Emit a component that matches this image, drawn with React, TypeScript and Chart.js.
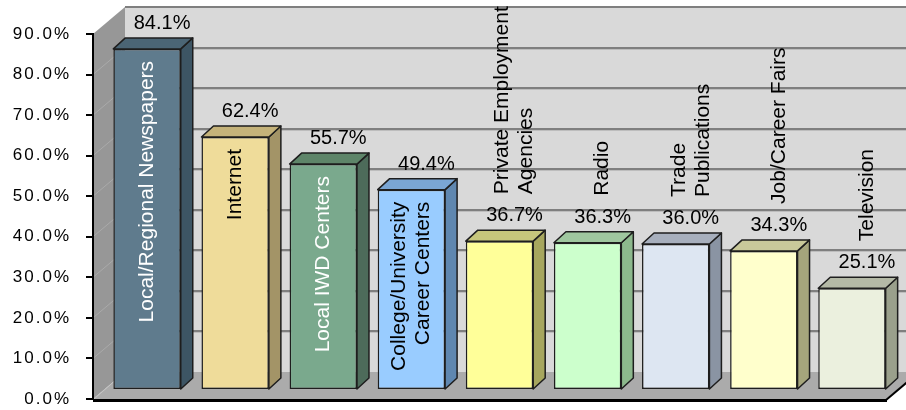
import React, { useEffect, useRef } from 'react';
import { Chart, registerables } from 'chart.js';

Chart.register(...registerables);

// ---- data ----
const categories: string[][] = [
  ['Local/Regional Newspapers'],
  ['Internet'],
  ['Local IWD Centers'],
  ['College/University', 'Career Centers'],
  ['Private Employment', 'Agencies'],
  ['Radio'],
  ['Trade', 'Publications'],
  ['Job/Career Fairs'],
  ['Television'],
];
const values: number[] = [84.1, 62.4, 55.7, 49.4, 36.7, 36.3, 36.0, 34.3, 25.1];
const yMin = 0;
const yMax = 90;
const yStep = 10;

// ---- styles ----
const frontColors = ['#5f7b8d', '#efdc9a', '#7aa98d', '#99ccff', '#ffff99', '#ccffcc', '#dde6f2', '#ffffcc', '#ebf0de'];
const sideColors = ['#3d5564', '#a39467', '#4d6b5a', '#5f87b0', '#a6a65e', '#8cb88c', '#8a94a3', '#a5a57c', '#9aa08c'];
const topColors = ['#4b6575', '#c5b37a', '#5e8569', '#7aa6d4', '#c6c67c', '#9fc79f', '#a7afbd', '#c9c99a', '#b4b9a6'];
const labelInside = [true, true, true, true, false, false, false, false, false];
const labelColors = ['#ffffff', '#000000', '#ffffff', '#000000', '#000000', '#000000', '#000000', '#000000', '#000000'];

const FONT = '"Liberation Sans", Arial, sans-serif';
const WALL_DX = 32, WALL_DY = -27;
const BAR_OFF_DX = 10, BAR_OFF_DY = -9;
const BAR_DX = 12, BAR_DY = -11;

const threeD = {
  id: 'threeD',
  beforeDraw(chart: any) {
    const { ctx, chartArea: a } = chart;
    const y = chart.scales.y;
    ctx.save();
    ctx.fillStyle = '#ffffff';
    ctx.fillRect(0, 0, chart.width, chart.height);
    const y0 = y.getPixelForValue(yMin);
    const yT = y.getPixelForValue(yMax);

    // back wall
    ctx.fillStyle = '#d9d9d9';
    ctx.fillRect(a.left + WALL_DX, yT + WALL_DY, a.right - a.left + 40, y0 - yT);
    for (let v = yMin + yStep; v < yMax; v += yStep) {
      const py = Math.round(y.getPixelForValue(v) + WALL_DY);
      ctx.fillStyle = '#7f7f7f';
      ctx.fillRect(a.left + WALL_DX, py - 1, chart.width, 2);
      ctx.fillStyle = '#bdbdbd';
      ctx.fillRect(a.left + WALL_DX, py + 1, chart.width, 1);
    }
    ctx.fillStyle = '#7f7f7f';
    ctx.fillRect(a.left + WALL_DX, Math.round(yT + WALL_DY) - 1, chart.width, 2);

    // side wall
    ctx.fillStyle = '#979797';
    ctx.beginPath();
    ctx.moveTo(a.left, yT);
    ctx.lineTo(a.left + WALL_DX, yT + WALL_DY);
    ctx.lineTo(a.left + WALL_DX, y0 + WALL_DY);
    ctx.lineTo(a.left, y0);
    ctx.closePath();
    ctx.fill();
    ctx.strokeStyle = '#aaaaaa';
    ctx.lineWidth = 1;
    for (let v = yMin + yStep; v < yMax; v += yStep) {
      const py = y.getPixelForValue(v);
      ctx.beginPath();
      ctx.moveTo(a.left, py);
      ctx.lineTo(a.left + WALL_DX, py + WALL_DY);
      ctx.stroke();
    }

    // floor
    ctx.fillStyle = '#ababab';
    ctx.beginPath();
    ctx.moveTo(a.left, y0);
    ctx.lineTo(a.left + WALL_DX, y0 + WALL_DY);
    ctx.lineTo(a.right + WALL_DX, y0 + WALL_DY);
    ctx.lineTo(a.right, y0);
    ctx.closePath();
    ctx.fill();
    ctx.strokeStyle = '#c4c4c4';
    ctx.beginPath();
    ctx.moveTo(a.left + 1, y0);
    ctx.lineTo(a.left + WALL_DX, y0 + WALL_DY);
    ctx.stroke();

    // floor front edge
    ctx.strokeStyle = '#000000';
    ctx.lineWidth = 3;
    ctx.beginPath();
    ctx.moveTo(a.left, y0 + 1.5);
    ctx.lineTo(a.right + 1, y0 + 1.5);
    ctx.stroke();
    ctx.lineWidth = 2;
    ctx.beginPath();
    ctx.moveTo(a.right, y0 + 1);
    ctx.lineTo(a.right + WALL_DX, y0 + WALL_DY + 1);
    ctx.stroke();
    ctx.restore();
    (ctx as any).letterSpacing = '2px';
  },
  beforeDatasetsDraw(chart: any) {
    const ctx = chart.ctx;
    (ctx as any).letterSpacing = '0px';
    ctx.save();
    ctx.translate(BAR_OFF_DX, BAR_OFF_DY);
  },
  afterDatasetsDraw(chart: any) {
    const ctx = chart.ctx;
    const meta = chart.getDatasetMeta(0);
    meta.data.forEach((el: any, i: number) => {
      const p = el.getProps(['x', 'y', 'base', 'width'], true);
      const L = p.x - p.width / 2;
      const R = p.x + p.width / 2;
      const T = p.y;
      const B = p.base;
      ctx.save();
      ctx.strokeStyle = '#1e1e1e';
      ctx.lineWidth = 1.5;
      ctx.lineJoin = 'round';
      // side face
      ctx.fillStyle = sideColors[i];
      ctx.beginPath();
      ctx.moveTo(R, T);
      ctx.lineTo(R + BAR_DX, T + BAR_DY);
      ctx.lineTo(R + BAR_DX, B + BAR_DY);
      ctx.lineTo(R, B);
      ctx.closePath();
      ctx.fill();
      ctx.stroke();
      // top face
      ctx.fillStyle = topColors[i];
      ctx.beginPath();
      ctx.moveTo(L, T);
      ctx.lineTo(L + BAR_DX, T + BAR_DY);
      ctx.lineTo(R + BAR_DX, T + BAR_DY);
      ctx.lineTo(R, T);
      ctx.closePath();
      ctx.fill();
      ctx.stroke();

      // value label
      ctx.fillStyle = '#000000';
      ctx.font = `20px ${FONT}`;
      ctx.textAlign = 'center';
      ctx.textBaseline = 'alphabetic';
      ctx.fillText(values[i].toFixed(1) + '%', p.x + 15, T - 20);

      // category label
      const lines = categories[i];
      const n = lines.length;
      ctx.font = `21px ${FONT}`;
      ctx.fillStyle = labelColors[i];
      ctx.textBaseline = 'middle';
      if (labelInside[i]) {
        ctx.translate(p.x, T + 12);
        ctx.rotate(-Math.PI / 2);
        ctx.textAlign = 'right';
      } else {
        ctx.translate(p.x + 15, T - 47);
        ctx.rotate(-Math.PI / 2);
        ctx.textAlign = 'left';
      }
      lines.forEach((ln, k) => {
        ctx.fillText(ln, 0, (k - (n - 1) / 2) * 24);
      });
      ctx.restore();
    });
    ctx.restore();
  },
};

export default function App() {
  const ref = useRef<HTMLCanvasElement | null>(null);
  useEffect(() => {
    if (!ref.current) return;
    const chart = new Chart(ref.current, {
      type: 'bar',
      data: {
        labels: categories.map((c) => c.join(' ')),
        datasets: [
          {
            data: values,
            backgroundColor: frontColors,
            borderColor: '#1e1e1e',
            borderWidth: 1.5,
            borderSkipped: false,
            barPercentage: 0.765,
            categoryPercentage: 1,
          },
        ],
      },
      options: {
        responsive: false,
        animation: false,
        events: [],
        devicePixelRatio: 1,
        layout: { padding: { left: 0, top: 34, right: 20, bottom: 11 } },
        plugins: { legend: { display: false }, tooltip: { enabled: false }, title: { display: false } },
        scales: {
          x: { display: false },
          y: {
            min: yMin,
            max: yMax,
            ticks: {
              stepSize: yStep,
              callback: (v: any) => Number(v).toFixed(1) + '%',
              color: '#000000',
              font: { family: FONT, size: 17 },
              padding: 15,
            },
            grid: { drawOnChartArea: false, drawTicks: true, tickLength: 7, color: '#000000', lineWidth: 2 },
            border: { display: true, color: '#000000', width: 2 },
            afterFit: (s: any) => {
              s.width = 93;
              s.paddingTop = 0;
              s.paddingBottom = 0;
            },
          },
        },
      },
      plugins: [threeD],
    });
    return () => chart.destroy();
  }, []);
  return (
    <div style={{ position: 'absolute', left: 0, top: 0, width: 906, height: 410 }}>
      <canvas ref={ref} width={906} height={410} />
    </div>
  );
}
